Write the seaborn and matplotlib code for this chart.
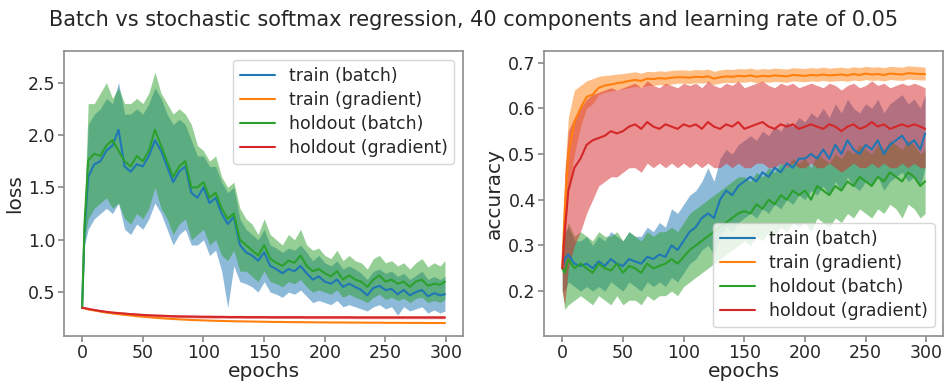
import matplotlib
matplotlib.use("Agg")
import matplotlib.pyplot as plt
import pandas as pd
import seaborn as sns

# ---------------- data ----------------
epochs = [0, 2] + list(range(5, 300, 5)) + [299]
series_labels = ["train (batch)", "train (gradient)", "holdout (batch)", "holdout (gradient)"]
title_text = "Batch vs stochastic softmax regression, 40 components and learning rate of 0.05"

# loss panel
loss_train_batch = [
    0.35, 1.1, 1.6, 1.72, 1.75, 1.85, 1.9, 2.05, 1.7, 1.65,
    1.72, 1.7, 1.8, 1.95, 1.85, 1.7, 1.55, 1.65, 1.7, 1.45,
    1.4, 1.5, 1.35, 1.4, 1.25, 1.15, 1.22, 0.95, 0.88, 0.85,
    0.8, 0.88, 0.75, 0.72, 0.68, 0.72, 0.7, 0.75, 0.68, 0.62,
    0.65, 0.6, 0.58, 0.62, 0.55, 0.58, 0.55, 0.52, 0.47, 0.54,
    0.56, 0.52, 0.53, 0.48, 0.52, 0.47, 0.5, 0.52, 0.46, 0.49,
    0.47, 0.48]
loss_train_batch_lo = [
    0.34, 0.95, 1.1, 1.2, 1.25, 1.3, 1.25, 1.35, 1.1, 1.05,
    1.15, 1.1, 1.2, 1.35, 1.25, 1.1, 0.95, 1.05, 1.1, 0.95,
    0.95, 1.0, 0.85, 0.9, 0.7, 0.35, 0.75, 0.6, 0.58, 0.55,
    0.5, 0.6, 0.5, 0.48, 0.45, 0.5, 0.48, 0.52, 0.46, 0.4,
    0.42, 0.4, 0.38, 0.42, 0.36, 0.38, 0.36, 0.34, 0.32, 0.36,
    0.38, 0.34, 0.36, 0.28, 0.36, 0.32, 0.34, 0.36, 0.3, 0.33,
    0.3, 0.32]
loss_train_batch_hi = [
    0.36, 1.25, 2.1, 2.2, 2.25, 2.35, 2.3, 2.5, 2.2, 2.2,
    2.25, 2.2, 2.3, 2.45, 2.35, 2.2, 2.1, 2.15, 2.1, 1.95,
    1.8, 1.8, 1.7, 1.7, 1.55, 1.45, 1.5, 1.2, 1.1, 1.05,
    1.0, 1.1, 0.95, 0.92, 0.88, 0.92, 0.9, 0.95, 0.88, 0.8,
    0.85, 0.78, 0.75, 0.8, 0.72, 0.75, 0.72, 0.68, 0.62, 0.7,
    0.72, 0.68, 0.7, 0.65, 0.68, 0.62, 0.66, 0.7, 0.62, 0.65,
    0.62, 0.65]
loss_train_grad = [
    0.35, 0.345, 0.335, 0.325, 0.315, 0.305, 0.297, 0.29, 0.283, 0.277,
    0.27, 0.265, 0.26, 0.255, 0.251, 0.247, 0.243, 0.24, 0.237, 0.234,
    0.232, 0.23, 0.228, 0.226, 0.225, 0.223, 0.222, 0.221, 0.22, 0.219,
    0.218, 0.217, 0.216, 0.215, 0.215, 0.214, 0.213, 0.213, 0.212, 0.212,
    0.211, 0.211, 0.21, 0.21, 0.21, 0.209, 0.209, 0.209, 0.208, 0.208,
    0.208, 0.207, 0.207, 0.207, 0.206, 0.206, 0.206, 0.206, 0.205, 0.205,
    0.205, 0.205]
loss_hold_batch = [
    0.35, 1.16, 1.76, 1.82, 1.8, 1.9, 1.95, 1.85, 1.75, 1.7,
    1.8, 1.75, 1.85, 2.05, 1.9, 1.75, 1.6, 1.7, 1.75, 1.5,
    1.5, 1.55, 1.4, 1.45, 1.3, 1.2, 1.25, 1.0, 0.95, 0.9,
    0.85, 0.95, 0.82, 0.78, 0.75, 0.8, 0.78, 0.85, 0.75, 0.7,
    0.72, 0.68, 0.65, 0.7, 0.62, 0.66, 0.62, 0.6, 0.55, 0.62,
    0.66, 0.6, 0.62, 0.58, 0.6, 0.55, 0.6, 0.62, 0.56, 0.58,
    0.57, 0.6]
loss_hold_batch_lo = [
    0.34, 1.0, 1.2, 1.3, 1.35, 1.4, 1.3, 1.35, 1.2, 1.15,
    1.25, 1.2, 1.3, 1.5, 1.3, 1.2, 1.05, 1.15, 1.2, 1.0,
    1.05, 1.1, 0.95, 1.0, 0.85, 0.8, 0.9, 0.7, 0.7, 0.65,
    0.6, 0.7, 0.6, 0.58, 0.55, 0.6, 0.58, 0.62, 0.55, 0.5,
    0.52, 0.5, 0.48, 0.52, 0.45, 0.48, 0.45, 0.43, 0.4, 0.45,
    0.48, 0.43, 0.45, 0.42, 0.44, 0.4, 0.44, 0.45, 0.4, 0.42,
    0.4, 0.43]
loss_hold_batch_hi = [
    0.36, 1.3, 2.3, 2.3, 2.4, 2.5, 2.35, 2.45, 2.3, 2.3,
    2.35, 2.3, 2.4, 2.6, 2.4, 2.3, 2.2, 2.25, 2.2, 2.1,
    1.9, 1.85, 1.75, 1.8, 1.6, 1.5, 1.55, 1.3, 1.2, 1.15,
    1.05, 1.2, 1.05, 1.0, 0.95, 1.05, 1.0, 1.1, 0.95, 0.9,
    0.92, 0.85, 0.82, 0.9, 0.8, 0.85, 0.8, 0.78, 0.72, 0.82,
    0.85, 0.78, 0.8, 0.75, 0.78, 0.72, 0.78, 0.82, 0.74, 0.78,
    0.75, 0.8]
loss_hold_grad = [
    0.35, 0.348, 0.34, 0.33, 0.32, 0.312, 0.305, 0.3, 0.295, 0.29,
    0.286, 0.282, 0.279, 0.276, 0.274, 0.272, 0.27, 0.268, 0.267, 0.266,
    0.265, 0.264, 0.264, 0.263, 0.263, 0.262, 0.262, 0.262, 0.261, 0.261,
    0.261, 0.261, 0.26, 0.26, 0.26, 0.26, 0.26, 0.26, 0.259, 0.259,
    0.259, 0.259, 0.259, 0.259, 0.259, 0.259, 0.258, 0.258, 0.258, 0.258,
    0.258, 0.258, 0.258, 0.258, 0.258, 0.258, 0.258, 0.258, 0.258, 0.258,
    0.258, 0.258]
loss_hold_grad_lo = [
    0.345, 0.342, 0.333, 0.321, 0.31, 0.301, 0.294, 0.288, 0.283, 0.278,
    0.274, 0.27, 0.267, 0.264, 0.262, 0.26, 0.258, 0.256, 0.255, 0.254,
    0.253, 0.252, 0.252, 0.251, 0.251, 0.25, 0.25, 0.25, 0.249, 0.249,
    0.249, 0.249, 0.248, 0.248, 0.248, 0.248, 0.248, 0.248, 0.247, 0.247,
    0.247, 0.247, 0.247, 0.247, 0.247, 0.247, 0.246, 0.246, 0.246, 0.246,
    0.246, 0.246, 0.246, 0.246, 0.246, 0.246, 0.246, 0.246, 0.246, 0.246,
    0.246, 0.246]
loss_hold_grad_hi = [
    0.355, 0.354, 0.347, 0.339, 0.33, 0.323, 0.317, 0.313, 0.308, 0.304,
    0.3, 0.297, 0.294, 0.291, 0.289, 0.287, 0.285, 0.284, 0.283, 0.282,
    0.281, 0.28, 0.28, 0.279, 0.279, 0.278, 0.278, 0.278, 0.277, 0.277,
    0.277, 0.277, 0.276, 0.276, 0.276, 0.276, 0.276, 0.276, 0.275, 0.275,
    0.275, 0.275, 0.275, 0.275, 0.275, 0.275, 0.274, 0.274, 0.274, 0.274,
    0.274, 0.274, 0.274, 0.274, 0.274, 0.274, 0.274, 0.274, 0.274, 0.274,
    0.274, 0.274]

# accuracy panel
acc_train_batch = [
    0.25, 0.27, 0.28, 0.26, 0.255, 0.26, 0.25, 0.265, 0.255, 0.27,
    0.26, 0.255, 0.27, 0.265, 0.26, 0.275, 0.27, 0.28, 0.275, 0.3,
    0.29, 0.31, 0.33, 0.34, 0.36, 0.37, 0.36, 0.4, 0.42, 0.41,
    0.43, 0.44, 0.45, 0.44, 0.46, 0.45, 0.47, 0.46, 0.48, 0.47,
    0.49, 0.49, 0.5, 0.49, 0.51, 0.49, 0.52, 0.5, 0.53, 0.51,
    0.5, 0.52, 0.51, 0.53, 0.5, 0.52, 0.53, 0.54, 0.52, 0.53,
    0.51, 0.545]
acc_train_batch_lo = [
    0.2, 0.2, 0.22, 0.21, 0.2, 0.21, 0.2, 0.21, 0.2, 0.22,
    0.21, 0.2, 0.22, 0.21, 0.2, 0.22, 0.21, 0.22, 0.21, 0.23,
    0.22, 0.24, 0.26, 0.27, 0.29, 0.3, 0.28, 0.32, 0.34, 0.33,
    0.35, 0.36, 0.37, 0.36, 0.38, 0.37, 0.39, 0.38, 0.4, 0.39,
    0.41, 0.4, 0.42, 0.41, 0.43, 0.41, 0.44, 0.42, 0.45, 0.43,
    0.42, 0.44, 0.43, 0.45, 0.42, 0.44, 0.45, 0.46, 0.44, 0.45,
    0.43, 0.47]
acc_train_batch_hi = [
    0.3, 0.33, 0.34, 0.31, 0.31, 0.32, 0.3, 0.32, 0.31, 0.33,
    0.32, 0.31, 0.33, 0.32, 0.32, 0.34, 0.33, 0.35, 0.34, 0.38,
    0.37, 0.39, 0.41, 0.42, 0.44, 0.47, 0.44, 0.49, 0.51, 0.5,
    0.52, 0.53, 0.54, 0.53, 0.55, 0.54, 0.56, 0.55, 0.57, 0.56,
    0.58, 0.57, 0.59, 0.58, 0.6, 0.58, 0.61, 0.59, 0.62, 0.6,
    0.59, 0.61, 0.6, 0.62, 0.59, 0.61, 0.62, 0.63, 0.61, 0.62,
    0.6, 0.63]
acc_train_grad = [
    0.25, 0.38, 0.5, 0.57, 0.6, 0.625, 0.63, 0.645, 0.65, 0.652,
    0.655, 0.657, 0.66, 0.662, 0.66, 0.665, 0.664, 0.666, 0.665, 0.667,
    0.668, 0.668, 0.667, 0.669, 0.668, 0.67, 0.665, 0.668, 0.67, 0.669,
    0.671, 0.67, 0.672, 0.669, 0.671, 0.67, 0.672, 0.671, 0.67, 0.673,
    0.672, 0.671, 0.673, 0.672, 0.674, 0.672, 0.673, 0.674, 0.672, 0.675,
    0.673, 0.676, 0.674, 0.675, 0.673, 0.676, 0.675, 0.674, 0.677, 0.676,
    0.675, 0.675]
acc_train_grad_lo = [
    0.23, 0.3, 0.42, 0.5, 0.56, 0.6, 0.61, 0.63, 0.635, 0.638,
    0.64, 0.643, 0.645, 0.648, 0.646, 0.65, 0.65, 0.652, 0.651, 0.653,
    0.655, 0.655, 0.654, 0.656, 0.655, 0.657, 0.652, 0.655, 0.657, 0.656,
    0.658, 0.657, 0.659, 0.656, 0.658, 0.657, 0.659, 0.658, 0.657, 0.66,
    0.659, 0.658, 0.66, 0.659, 0.661, 0.659, 0.66, 0.661, 0.659, 0.662,
    0.66, 0.663, 0.661, 0.662, 0.66, 0.663, 0.662, 0.661, 0.664, 0.663,
    0.662, 0.662]
acc_train_grad_hi = [
    0.27, 0.46, 0.58, 0.64, 0.65, 0.66, 0.665, 0.67, 0.672, 0.673,
    0.675, 0.676, 0.678, 0.68, 0.677, 0.681, 0.68, 0.682, 0.681, 0.683,
    0.684, 0.684, 0.683, 0.685, 0.684, 0.686, 0.681, 0.684, 0.686, 0.685,
    0.687, 0.686, 0.688, 0.685, 0.687, 0.686, 0.688, 0.687, 0.686, 0.689,
    0.688, 0.687, 0.689, 0.688, 0.69, 0.688, 0.689, 0.69, 0.688, 0.691,
    0.689, 0.692, 0.69, 0.691, 0.689, 0.692, 0.691, 0.69, 0.693, 0.692,
    0.691, 0.69]
acc_hold_batch = [
    0.25, 0.24, 0.27, 0.25, 0.26, 0.25, 0.24, 0.26, 0.25, 0.245,
    0.26, 0.24, 0.255, 0.25, 0.24, 0.26, 0.25, 0.255, 0.26, 0.27,
    0.26, 0.275, 0.29, 0.3, 0.31, 0.32, 0.33, 0.34, 0.35, 0.36,
    0.37, 0.375, 0.37, 0.39, 0.38, 0.4, 0.39, 0.41, 0.4, 0.42,
    0.41, 0.42, 0.4, 0.43, 0.42, 0.41, 0.43, 0.42, 0.44, 0.43,
    0.45, 0.44, 0.43, 0.45, 0.44, 0.46, 0.45, 0.44, 0.46, 0.45,
    0.43, 0.44]
acc_hold_batch_lo = [
    0.2, 0.16, 0.17, 0.18, 0.19, 0.18, 0.17, 0.19, 0.18, 0.17,
    0.19, 0.17, 0.18, 0.18, 0.17, 0.19, 0.18, 0.19, 0.19, 0.2,
    0.19, 0.21, 0.22, 0.23, 0.24, 0.25, 0.26, 0.27, 0.28, 0.29,
    0.3, 0.31, 0.3, 0.32, 0.31, 0.33, 0.32, 0.34, 0.33, 0.35,
    0.34, 0.35, 0.33, 0.36, 0.35, 0.34, 0.36, 0.35, 0.37, 0.36,
    0.38, 0.37, 0.36, 0.38, 0.37, 0.39, 0.38, 0.36, 0.39, 0.38,
    0.36, 0.37]
acc_hold_batch_hi = [
    0.3, 0.32, 0.35, 0.32, 0.33, 0.32, 0.31, 0.33, 0.32, 0.32,
    0.33, 0.31, 0.33, 0.32, 0.31, 0.33, 0.32, 0.33, 0.33, 0.34,
    0.33, 0.35, 0.37, 0.38, 0.39, 0.4, 0.41, 0.42, 0.43, 0.44,
    0.45, 0.45, 0.44, 0.46, 0.45, 0.47, 0.46, 0.48, 0.47, 0.49,
    0.48, 0.49, 0.47, 0.5, 0.49, 0.48, 0.5, 0.49, 0.51, 0.5,
    0.52, 0.51, 0.5, 0.52, 0.51, 0.53, 0.52, 0.51, 0.53, 0.52,
    0.5, 0.51]
acc_hold_grad = [
    0.25, 0.33, 0.42, 0.47, 0.49, 0.52, 0.53, 0.535, 0.54, 0.55,
    0.545, 0.55, 0.56, 0.565, 0.555, 0.57, 0.56, 0.555, 0.565, 0.56,
    0.555, 0.565, 0.56, 0.565, 0.555, 0.57, 0.56, 0.555, 0.565, 0.56,
    0.57, 0.555, 0.56, 0.565, 0.57, 0.56, 0.555, 0.565, 0.56, 0.565,
    0.555, 0.56, 0.565, 0.56, 0.555, 0.565, 0.56, 0.55, 0.56, 0.565,
    0.555, 0.56, 0.57, 0.56, 0.565, 0.555, 0.56, 0.565, 0.56, 0.565,
    0.56, 0.555]
acc_hold_grad_lo = [
    0.2, 0.17, 0.25, 0.3, 0.33, 0.37, 0.4, 0.43, 0.44, 0.45,
    0.45, 0.46, 0.47, 0.47, 0.46, 0.48, 0.47, 0.48, 0.47, 0.48,
    0.47, 0.48, 0.47, 0.48, 0.47, 0.48, 0.47, 0.47, 0.48, 0.47,
    0.48, 0.47, 0.47, 0.48, 0.48, 0.47, 0.47, 0.48, 0.47, 0.48,
    0.47, 0.47, 0.48, 0.47, 0.47, 0.48, 0.47, 0.46, 0.47, 0.48,
    0.47, 0.47, 0.48, 0.47, 0.48, 0.47, 0.47, 0.48, 0.47, 0.48,
    0.47, 0.47]
acc_hold_grad_hi = [
    0.3, 0.45, 0.55, 0.58, 0.6, 0.62, 0.63, 0.635, 0.64, 0.645,
    0.64, 0.645, 0.65, 0.655, 0.645, 0.66, 0.65, 0.645, 0.655, 0.65,
    0.645, 0.655, 0.65, 0.655, 0.645, 0.66, 0.65, 0.645, 0.655, 0.65,
    0.66, 0.645, 0.65, 0.655, 0.66, 0.65, 0.645, 0.655, 0.65, 0.655,
    0.645, 0.65, 0.655, 0.65, 0.645, 0.655, 0.65, 0.64, 0.65, 0.655,
    0.645, 0.65, 0.66, 0.65, 0.655, 0.645, 0.65, 0.655, 0.65, 0.655,
    0.65, 0.645]

# ---------------- style ----------------
sns.set_theme(style="white", rc={
    "axes.edgecolor": "#8c8c8c",
    "axes.linewidth": 1.2,
    "xtick.bottom": True,
    "ytick.left": True,
    "xtick.color": "#8c8c8c",
    "ytick.color": "#8c8c8c",
    "xtick.labelcolor": "#262626",
    "ytick.labelcolor": "#262626",
    "xtick.major.size": 4,
    "ytick.major.size": 4,
    "text.color": "#262626",
    "axes.labelcolor": "#262626",
})
plt.rcParams["font.family"] = ["DejaVu Sans"]

colors = dict(zip(series_labels, sns.color_palette("tab10", 4)))

fig = plt.figure(figsize=(9.48, 3.85), dpi=100)
ax1 = fig.add_axes([0.0675, 0.127, 0.421, 0.740])
ax2 = fig.add_axes([0.574, 0.127, 0.421, 0.740])


def draw(ax, means, bands):
    rows = []
    for lab, m in zip(series_labels, means):
        for e, v in zip(epochs, m):
            rows.append({"epochs": e, "value": v, "series": lab})
    df = pd.DataFrame(rows)
    for lab, band in zip(series_labels, bands):
        if band is not None:
            ax.fill_between(epochs, band[0], band[1], color=colors[lab],
                            alpha=0.5, linewidth=0, zorder=1)
    sns.lineplot(data=df, x="epochs", y="value", hue="series",
                 hue_order=series_labels, palette=colors, linewidth=1.5,
                 errorbar=None, ax=ax, zorder=3)


draw(ax1,
     [loss_train_batch, loss_train_grad, loss_hold_batch, loss_hold_grad],
     [(loss_train_batch_lo, loss_train_batch_hi), None,
      (loss_hold_batch_lo, loss_hold_batch_hi),
      (loss_hold_grad_lo, loss_hold_grad_hi)])
draw(ax2,
     [acc_train_batch, acc_train_grad, acc_hold_batch, acc_hold_grad],
     [(acc_train_batch_lo, acc_train_batch_hi),
      (acc_train_grad_lo, acc_train_grad_hi),
      (acc_hold_batch_lo, acc_hold_batch_hi),
      (acc_hold_grad_lo, acc_hold_grad_hi)])

ax1.set_ylim(0.08, 2.80)
ax1.set_yticks([0.5, 1.0, 1.5, 2.0, 2.5])
ax2.set_ylim(0.1015, 0.725)
ax2.set_yticks([0.2, 0.3, 0.4, 0.5, 0.6, 0.7])
for ax, yl in ((ax1, "loss"), (ax2, "accuracy")):
    ax.set_xlim(-14.95, 313.95)
    ax.set_xticks([0, 50, 100, 150, 200, 250, 300])
    ax.set_xlabel("epochs", fontsize=14.5, labelpad=0)
    ax.set_ylabel(yl, fontsize=14.5, labelpad=3)
    ax.tick_params(labelsize=12.5, pad=2)
    for sp in ax.spines.values():
        sp.set_visible(True)

ax1.legend(loc="upper right", fontsize=12.5, frameon=True,
           handlelength=2.0, borderpad=0.4, labelspacing=0.35)
ax2.legend(loc="lower right", fontsize=12.5, frameon=True,
           handlelength=2.0, borderpad=0.4, labelspacing=0.35)

fig.text(0.5, 0.947, title_text, ha="center", va="center", fontsize=15)

fig.savefig("out.png", dpi=100)
